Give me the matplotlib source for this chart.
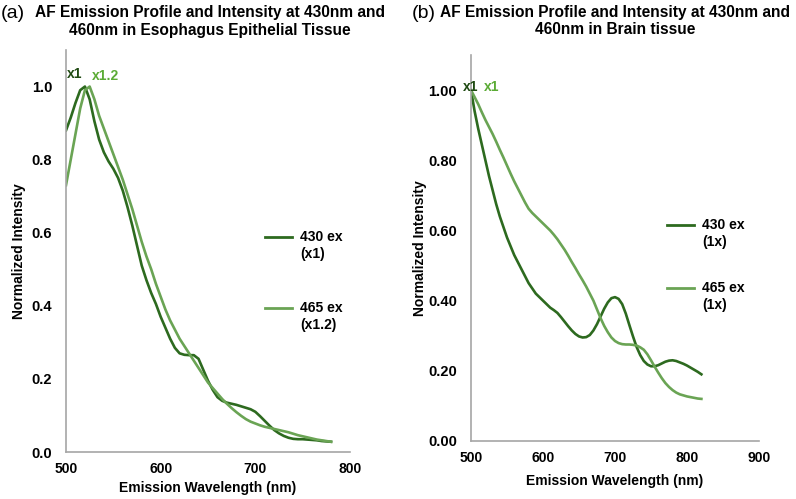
import matplotlib
matplotlib.use("Agg")
import matplotlib.pyplot as plt
from matplotlib.lines import Line2D

plt.rcParams['font.family'] = ['Liberation Sans', 'DejaVu Sans']

# ---------------- data ----------------
# Panel (a): Esophagus epithelial tissue (wavelengths 500..780 nm, step 5)
wl_a = list(range(500, 781, 5))
ex430_a = [0.88, 0.915, 0.955, 0.99, 1.00, 0.965, 0.905, 0.855, 0.82, 0.795,
           0.775, 0.75, 0.715, 0.67, 0.62, 0.565, 0.51, 0.47, 0.435, 0.405,
           0.37, 0.34, 0.31, 0.285, 0.27, 0.266, 0.265, 0.265, 0.255, 0.225,
           0.195, 0.17, 0.15, 0.14, 0.135, 0.132, 0.129, 0.125, 0.121, 0.117,
           0.11, 0.098, 0.085, 0.072, 0.06, 0.051, 0.044, 0.039, 0.036, 0.035,
           0.035, 0.034, 0.033, 0.032, 0.03, 0.029, 0.028]
ex465_a = [0.73, 0.80, 0.87, 0.94, 0.99, 1.0, 0.965, 0.92, 0.885, 0.85,
           0.815, 0.78, 0.745, 0.705, 0.665, 0.62, 0.575, 0.535, 0.50, 0.46,
           0.425, 0.39, 0.36, 0.335, 0.31, 0.29, 0.27, 0.25, 0.23, 0.21,
           0.19, 0.175, 0.16, 0.145, 0.132, 0.12, 0.109, 0.099, 0.09, 0.083,
           0.078, 0.073, 0.069, 0.066, 0.063, 0.06, 0.057, 0.054, 0.05, 0.046,
           0.043, 0.04, 0.037, 0.034, 0.032, 0.03, 0.028]

# Panel (b): Brain tissue (wavelengths 500..820 nm, step 5)
wl_b = list(range(500, 821, 5))
ex430_b = [1.0, 0.94, 0.89, 0.845, 0.80, 0.755, 0.715, 0.675, 0.64, 0.61,
           0.58, 0.555, 0.53, 0.51, 0.49, 0.47, 0.45, 0.435, 0.42, 0.41,
           0.40, 0.39, 0.38, 0.373, 0.365, 0.353, 0.34, 0.327, 0.315, 0.305,
           0.298, 0.295, 0.296, 0.302, 0.315, 0.333, 0.355, 0.377, 0.395, 0.407,
           0.41, 0.405, 0.39, 0.363, 0.33, 0.298, 0.268, 0.245, 0.228, 0.218,
           0.213, 0.213, 0.216, 0.221, 0.226, 0.229, 0.23, 0.228, 0.224, 0.22,
           0.215, 0.209, 0.203, 0.197, 0.19]
ex465_b = [1.0, 0.98, 0.96, 0.937, 0.915, 0.895, 0.875, 0.853, 0.83, 0.808,
           0.785, 0.762, 0.74, 0.72, 0.70, 0.68, 0.662, 0.65, 0.64, 0.63,
           0.62, 0.61, 0.60, 0.588, 0.575, 0.56, 0.545, 0.528, 0.51, 0.493,
           0.475, 0.458, 0.44, 0.42, 0.40, 0.375, 0.35, 0.328, 0.31, 0.295,
           0.285, 0.279, 0.276, 0.275, 0.275, 0.274, 0.272, 0.267, 0.26, 0.247,
           0.23, 0.212, 0.195, 0.179, 0.165, 0.154, 0.145, 0.138, 0.133, 0.13,
           0.127, 0.125, 0.123, 0.121, 0.12]

ticks_a_x = [500, 600, 700, 800]
ticks_a_y = [0.0, 0.2, 0.4, 0.6, 0.8, 1.0]
ticks_b_x = [500, 600, 700, 800, 900]
ticks_b_y = [0.0, 0.2, 0.4, 0.6, 0.8, 1.0]

DARK = '#2d6a1f'
LIGHT = '#6aa454'
DARK_TXT = '#1f4a12'
LIGHT_TXT = '#5bab35'
AXC = '#a6a6a6'

W, H = 796, 499
fig = plt.figure(figsize=(W / 100, H / 100), dpi=100)

def fx(px):
    return px / W

def fy(py):
    return 1 - py / H

def make_ax(l, r, t, b):
    return fig.add_axes([fx(l), fy(b), fx(r) - fx(l), fy(t) - fy(b)])

def style(ax):
    for s in ['top', 'right']:
        ax.spines[s].set_visible(False)
    for s in ['left', 'bottom']:
        ax.spines[s].set_color(AXC)
        ax.spines[s].set_linewidth(1.2)
    ax.tick_params(axis='x', length=0, labelsize=10, pad=7)
    ax.tick_params(axis='y', length=0, labelsize=10.5, pad=10)
    for lab in ax.get_xticklabels() + ax.get_yticklabels():
        lab.set_fontweight('bold')

LW = 1.9

# ---------- panel (a) ----------
axa = make_ax(66, 350, 50, 452)
axa.plot(wl_a, ex430_a, color=DARK, lw=LW, solid_joinstyle='round')
axa.plot(wl_a, ex465_a, color=LIGHT, lw=LW, solid_joinstyle='round')
axa.set_xlim(500, 800)
axa.set_ylim(0, 1.1)
axa.set_xticks(ticks_a_x)
axa.set_yticks(ticks_a_y)
axa.set_yticklabels([f'{v:.1f}' for v in ticks_a_y])
style(axa)
axa.set_xlabel('Emission Wavelength (nm)', fontsize=10, fontweight='bold', labelpad=4)
axa.set_ylabel('Normalized Intensity', fontsize=10, fontweight='bold', labelpad=4)
axa.text(509, 1.035, 'x1', color=DARK_TXT, fontsize=10, fontweight='bold', ha='center', va='center')
axa.text(542, 1.03, 'x1.2', color=LIGHT_TXT, fontsize=10, fontweight='bold', ha='center', va='center')

# ---------- panel (b) ----------
axb = make_ax(471, 759, 55, 441)
axb.plot(wl_b, ex430_b, color=DARK, lw=LW, solid_joinstyle='round')
axb.plot(wl_b, ex465_b, color=LIGHT, lw=LW, solid_joinstyle='round')
axb.set_xlim(500, 900)
axb.set_ylim(0, 1.1)
axb.set_xticks(ticks_b_x)
axb.set_yticks(ticks_b_y)
axb.set_yticklabels([f'{v:.2f}' for v in ticks_b_y])
style(axb)
axb.set_xlabel('Emission Wavelength (nm)', fontsize=10, fontweight='bold', labelpad=7)
axb.set_ylabel('Normalized Intensity', fontsize=10, fontweight='bold', labelpad=1)
axb.text(500, 1.01, 'x1', color=DARK_TXT, fontsize=10, fontweight='bold', ha='center', va='center')
axb.text(529, 1.01, 'x1', color=LIGHT_TXT, fontsize=10, fontweight='bold', ha='center', va='center')

# ---------- titles ----------
fig.text(fx(1), fy(14), '(a)', fontsize=14, ha='left', va='center')
fig.text(fx(210), fy(21), 'AF Emission Profile and Intensity at 430nm and\n460nm in Esophagus Epithelial Tissue',
         fontsize=11.2, fontweight='bold', ha='center', va='center', linespacing=1.25)
fig.text(fx(412), fy(14), '(b)', fontsize=14, ha='left', va='center')
fig.text(fx(615), fy(21), 'AF Emission Profile and Intensity at 430nm and\n460nm in Brain tissue',
         fontsize=11.2, fontweight='bold', ha='center', va='center', linespacing=1.25)

# ---------- legends (manual) ----------
def legend_entry(x0, y, color, label):
    fig.add_artist(Line2D([fx(x0), fx(x0 + 27)], [fy(y), fy(y)], color=color, lw=2,
                          transform=fig.transFigure))
    fig.text(fx(x0 + 35), fy(y - 7), label, fontsize=10, fontweight='bold',
             ha='left', va='top', linespacing=1.3)

legend_entry(265, 237, DARK, '430 ex\n(x1)')
legend_entry(265, 308, LIGHT, '465 ex\n(x1.2)')
legend_entry(667, 225, DARK, '430 ex\n(1x)')
legend_entry(667, 288, LIGHT, '465 ex\n(1x)')

fig.savefig('out.png', dpi=100)
